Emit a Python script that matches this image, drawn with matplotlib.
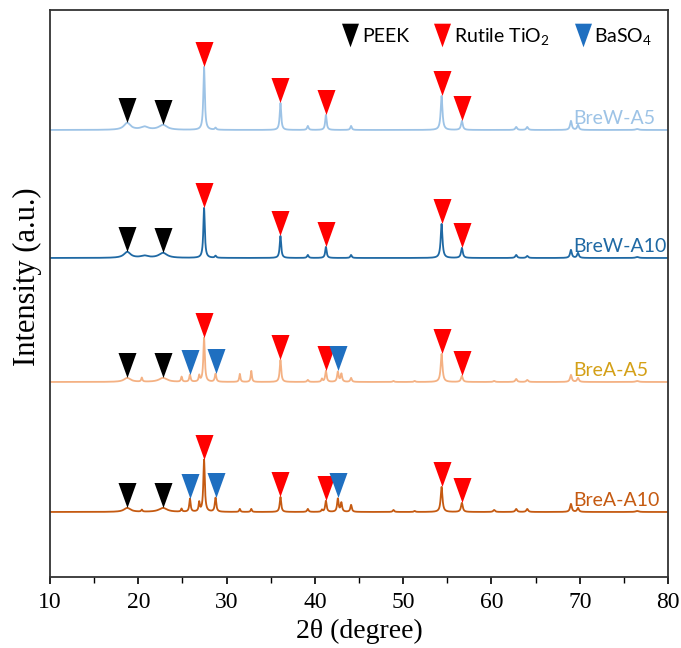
import numpy as np
import matplotlib
matplotlib.use("Agg")
import matplotlib.pyplot as plt
from matplotlib.lines import Line2D
from matplotlib.path import Path

plt.rcParams['mathtext.default'] = 'regular'

# ---------------- data ----------------
two_theta_range = [10, 80]
x_ticks = [10, 20, 30, 40, 50, 60, 70, 80]

series_names = ["BreW-A5", "BreW-A10", "BreA-A5", "BreA-A10"]
series_offsets = [447, 319, 195, 65]          # baseline of each stacked pattern (a.u.)

peak_pos =  [18.75, 20.4, 20.7, 22.8, 24.9, 25.85, 26.9, 27.45, 28.75, 31.5, 32.8,
             36.1, 39.2, 40.8, 41.25, 42.6, 43.0, 44.1, 48.9, 51.3, 54.35, 56.65,
             60.3, 62.8, 64.05, 69.0, 69.8, 76.5]
peak_hwhm = [0.45, 0.08, 0.5, 0.55, 0.08, 0.09, 0.08, 0.10, 0.10, 0.08, 0.08,
             0.10, 0.10, 0.08, 0.10, 0.10, 0.10, 0.10, 0.10, 0.10, 0.12, 0.12,
             0.12, 0.12, 0.12, 0.12, 0.12, 0.2]

brew_a5  = [7, 0, 3, 5, 0, 0, 0, 63, 2, 0, 0, 27, 4, 0, 15, 0, 0, 4, 0, 0, 34, 9, 0, 3, 3, 9, 5, 1]
brew_a10 = [6, 0, 2, 5, 0, 0, 0, 50, 2, 0, 0, 22, 3, 0, 11, 0, 0, 3, 0, 0, 34, 10, 0, 3, 2, 8, 5, 1]
brea_a5  = [4, 4, 0, 4, 5, 7, 6, 44, 8, 8, 11, 22, 2, 3, 11, 10, 8, 4, 1, 1, 28, 6, 1, 3, 2, 7, 4, 1]
brea_a10 = [4, 2, 0, 4, 3, 13, 9, 52, 14, 3, 3, 15, 3, 2, 11, 13, 9, 7, 2, 1, 25, 9, 2, 3, 3, 8, 4, 1]
series_heights = [brew_a5, brew_a10, brea_a5, brea_a10]

peek_pos = [18.75, 22.8]
rutile_pos = [27.45, 36.1, 41.25, 54.35, 56.65]
baso4_pos = [25.85, 28.75, 42.6]
baso4_series = ["BreA-A5", "BreA-A10"]

legend_labels = ["PEEK", "Rutile TiO$_2$", "BaSO$_4$"]

# ---------------- styles ----------------
line_colors = ["#9dc3e6", "#1f69a4", "#f4b183", "#c55a11"]
label_colors = ["#9dc3e6", "#1f69a4", "#d4a017", "#c55a11"]
marker_colors = {"PEEK": "#000000", "Rutile": "#ff0000", "BaSO4": "#1f6fc0"}

tri = Path([(-0.36, 0.5), (0.36, 0.5), (0.0, -0.5), (-0.36, 0.5)],
           [Path.MOVETO, Path.LINETO, Path.LINETO, Path.CLOSEPOLY])

fig = plt.figure(figsize=(6.81, 6.48), dpi=100)
ax = fig.add_axes([0.0734, 0.1096, 0.9076, 0.875])

x = np.linspace(two_theta_range[0], two_theta_range[1], 7001)

def pattern(heights):
    y = np.zeros_like(x)
    for p, w, h in zip(peak_pos, peak_hwhm, heights):
        y += h * w**2 / ((x - p)**2 + w**2)
    return y

def top_near(y, pos, tol=0.3):
    m = (x > pos - tol) & (x < pos + tol)
    return y[m].max()

for name, off, hts, lc, tc in zip(series_names, series_offsets, series_heights,
                                  line_colors, label_colors):
    y = pattern(hts) + off
    ax.plot(x, y, color=lc, lw=1.3)
    ax.text(69.3, off + 3, name, color=tc, fontsize=14, family="Lato",
            ha="left", va="bottom")
    groups = [(peek_pos, marker_colors["PEEK"]), (rutile_pos, marker_colors["Rutile"])]
    if name in baso4_series:
        groups.append((baso4_pos, marker_colors["BaSO4"]))
    for poss, mc in groups:
        for p in poss:
            ax.plot(p, top_near(y, p) + 13, marker=tri, ms=18, color=mc, mec="none")

handles = [Line2D([], [], ls="", marker=tri, ms=17, color=c, mec="none")
           for c in [marker_colors["PEEK"], marker_colors["Rutile"], marker_colors["BaSO4"]]]
leg = ax.legend(handles, legend_labels, loc="upper right", ncol=3, frameon=False,
                prop={"family": "Lato", "size": 14}, handletextpad=0.1,
                columnspacing=1.2, handlelength=1.0, borderaxespad=0.4)

ax.set_xlim(two_theta_range)
ax.set_ylim(0, 567)
ax.set_xticks(x_ticks)
ax.set_xticks(np.arange(15, 80, 10), minor=True)
ax.set_yticks([])
ax.tick_params(axis="x", which="major", direction="out", length=5, width=1.2,
               labelsize=17, pad=6)
ax.tick_params(axis="x", which="minor", direction="out", length=4, width=1.0)
for lbl in ax.get_xticklabels():
    lbl.set_family("Liberation Serif")
for s in ax.spines.values():
    s.set_linewidth(1.3)
    s.set_color("#333333")
ax.set_xlabel("2θ (degree)", family="Liberation Serif", fontsize=20, labelpad=4)
ax.set_ylabel("Intensity (a.u.)", family="Liberation Serif", fontsize=22, labelpad=6)
ax.yaxis.label.set_y(0.53)

fig.savefig("out.png", dpi=100)
